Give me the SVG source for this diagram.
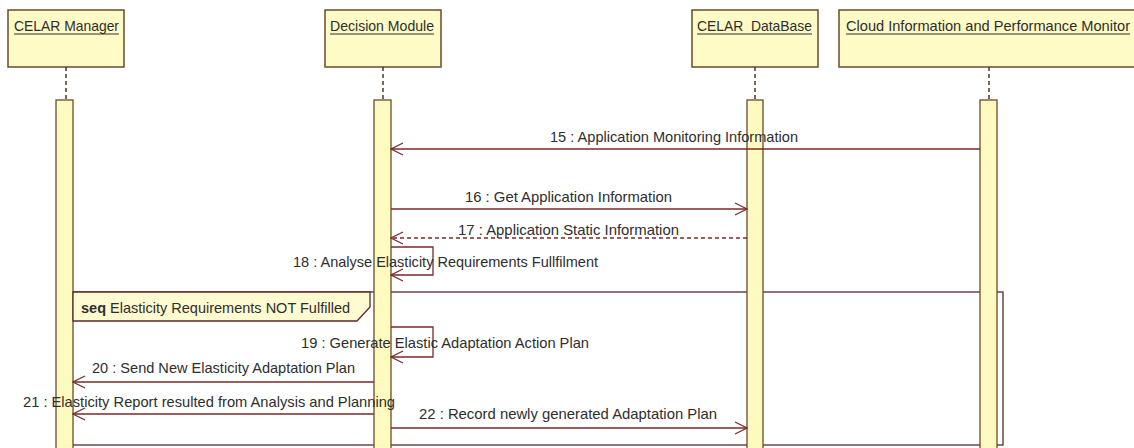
<svg xmlns="http://www.w3.org/2000/svg" width="1134" height="448" viewBox="0 0 1134 448">
<defs>
<style>
.hdr{fill:#fffbc6;stroke:#6b4a2a;stroke-width:1.5}
.life{stroke:#4a3a2a;stroke-width:1.5;stroke-dasharray:4 3;fill:none}
.bar{fill:#fffbc0;stroke:#6b4a2a;stroke-width:1.3}
.msg{stroke:#7a2a2a;stroke-width:1.3;fill:none}
.ret{stroke:#7a2a2a;stroke-width:1.3;fill:none;stroke-dasharray:4 3}
.frm{stroke:#5a2a2a;stroke-width:1.3;fill:none}
text{font-family:"Liberation Sans",Arial,sans-serif;font-size:14.5px;fill:#2e2e2e}
.ul{stroke:#2e2e2e;stroke-width:1}
</style>
<marker id="open" viewBox="0 0 14 14" refX="13" refY="7" markerWidth="14" markerHeight="14" markerUnits="userSpaceOnUse" orient="auto">
<path d="M1,1 L13,7 L1,13" fill="none" stroke="#7a2a2a" stroke-width="1.2"/>
</marker>
</defs>
<rect width="1134" height="448" fill="#ffffff"/>

<g id="frame">
<rect x="64" y="292" width="939" height="153" class="frm"/>
</g>

<g id="celar-manager">
<rect x="8" y="10" width="116" height="57" class="hdr"/>
<text x="14" y="31" textLength="105" lengthAdjust="spacingAndGlyphs">CELAR Manager</text>
<line x1="14" y1="34" x2="119" y2="34" class="ul"/>
<line x1="66" y1="67" x2="66" y2="100" class="life"/>
<rect x="56" y="100" width="17" height="350" class="bar"/>
</g>

<g id="decision-module">
<rect x="325" y="10" width="116" height="57" class="hdr"/>
<text x="330" y="31" textLength="104" lengthAdjust="spacingAndGlyphs">Decision Module</text>
<line x1="330" y1="34" x2="434" y2="34" class="ul"/>
<line x1="383" y1="67" x2="383" y2="100" class="life"/>
<rect x="374" y="100" width="17" height="350" class="bar"/>
</g>

<g id="celar-database">
<rect x="692" y="10" width="126" height="57" class="hdr"/>
<text x="697" y="31" textLength="115" lengthAdjust="spacingAndGlyphs" xml:space="preserve">CELAR  DataBase</text>
<line x1="697" y1="34" x2="812" y2="34" class="ul"/>
<line x1="755" y1="67" x2="755" y2="100" class="life"/>
<rect x="747" y="100" width="16" height="350" class="bar"/>
</g>

<g id="cloud-monitor">
<rect x="839" y="10" width="300" height="57" class="hdr"/>
<text x="846" y="31" textLength="284" lengthAdjust="spacingAndGlyphs">Cloud Information and Performance Monitor</text>
<line x1="846" y1="34" x2="1130" y2="34" class="ul"/>
<line x1="989" y1="67" x2="989" y2="100" class="life"/>
<rect x="980" y="100" width="17" height="350" class="bar"/>
</g>

<g id="seq-label">
<path d="M73,292 L370,292 L370,307 L357,321 L73,321 Z" fill="#fffbd0" stroke="#5a2a2a" stroke-width="1.3"/>
<text x="81" y="313"><tspan font-weight="bold">seq</tspan> <tspan textLength="240">Elasticity Requirements NOT Fulfilled</tspan></text>
</g>

<g id="connectors">
<line x1="980" y1="149" x2="391" y2="149" class="msg" marker-end="url(#open)"/>
<line x1="391" y1="209" x2="747" y2="209" class="msg" marker-end="url(#open)"/>
<line x1="747" y1="238" x2="391" y2="238" class="ret" marker-end="url(#open)"/>
<path d="M391,247 L433,247 L433,275 L391,275" class="msg" marker-end="url(#open)"/>
<path d="M391,327 L433,327 L433,357 L391,357" class="msg" marker-end="url(#open)"/>
<line x1="374" y1="382" x2="73" y2="382" class="msg" marker-end="url(#open)"/>
<line x1="374" y1="414" x2="73" y2="414" class="msg" marker-end="url(#open)"/>
<line x1="391" y1="428" x2="747" y2="428" class="msg" marker-end="url(#open)"/>
</g>

<g id="labels">
<text x="550" y="142" textLength="248" lengthAdjust="spacingAndGlyphs">15 : Application Monitoring Information</text>
<text x="465" y="202" textLength="207" lengthAdjust="spacingAndGlyphs">16 : Get Application Information</text>
<text x="458" y="235" textLength="221" lengthAdjust="spacingAndGlyphs">17 : Application Static Information</text>
<text x="293" y="267" textLength="305" lengthAdjust="spacingAndGlyphs">18 : Analyse Elasticity Requirements Fullfilment</text>
<text x="301" y="348" textLength="288" lengthAdjust="spacingAndGlyphs">19 : Generate Elastic Adaptation Action Plan</text>
<text x="92" y="373" textLength="263" lengthAdjust="spacingAndGlyphs">20 : Send New Elasticity Adaptation Plan</text>
<text x="23" y="407" textLength="372" lengthAdjust="spacingAndGlyphs">21 : Elasticity Report resulted from Analysis and Planning</text>
<text x="419" y="419" textLength="298" lengthAdjust="spacingAndGlyphs">22 : Record newly generated Adaptation Plan</text>
</g>
</svg>
